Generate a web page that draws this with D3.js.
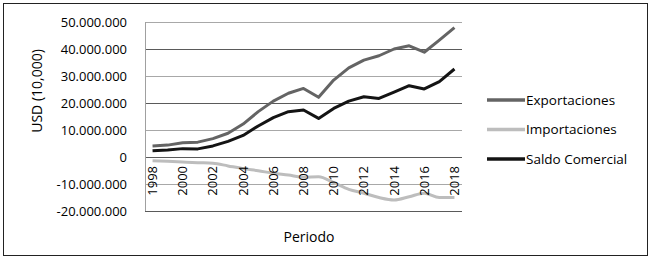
<!DOCTYPE html>
<html>
    <head>
        <meta charset="utf-8">
        <script src="https://d3js.org/d3.v7.min.js"></script>
    </head>
    <body>
        <svg id="chart" width="650" height="260"></svg>
        <script>
            const years = d3.range(1998, 2019);
            const exportaciones = [4.1, 4.4, 5.3, 5.5, 6.8, 8.8, 12.2, 16.8, 20.7, 23.6, 25.4, 22.1, 28.5, 33.0,
                                   35.9, 37.5, 40.0, 41.2, 38.8, 43.3, 47.9].map(v => v * 1e6);
            const importaciones = [-1.4, -1.6, -1.85, -2.1, -2.3, -3.3, -4.3, -5.1, -6.0, -6.7, -7.5, -7.3, -9.5, -12.0,
                                   -13.4, -15.0, -15.9, -14.7, -13.4, -15.0, -15.0].map(v => v * 1e6);
            const saldo = [2.3, 2.6, 3.1, 3.0, 4.1, 5.8, 8.0, 11.5, 14.6, 16.8, 17.4, 14.3, 18.0, 20.7,
                           22.3, 21.7, 24.0, 26.4, 25.2, 27.9, 32.6].map(v => v * 1e6);
            const yTicks = [50e6, 40e6, 30e6, 20e6, 10e6, 0, -10e6, -20e6];
            const seriesNames = ["Exportaciones", "Importaciones", "Saldo Comercial"];
            const seriesColors = ["#646464", "#bdbdbd", "#141414"];

            const svg = d3.select("svg#chart");
            const font = "'Open Sans', sans-serif";

            // outer frame
            svg.append("rect")
               .attr("x", 3.5).attr("y", 3.5)
               .attr("width", 644).attr("height", 252)
               .attr("fill", "white").attr("stroke", "#222").attr("stroke-width", 1);

            const plot = {left: 145, right: 462, top: 22, bottom: 211};

            const xScale = d3.scaleBand().domain(years).range([plot.left, plot.right]);
            const yScale = d3.scaleLinear().domain([-20e6, 50e6]).range([plot.bottom, plot.top]);
            const xPos = d => xScale(d) + xScale.bandwidth() / 2;
            // thousands with dots, plain hyphen for negatives
            const fmt = v => v === 0 ? "0" : d3.format(",")(v).replace(/,/g, ".").replace("\u2212", "-");

            // grid lines, alternating light / dark
            svg.selectAll("line.grid").data(yTicks)
               .join("line")
               .attr("class", "grid")
               .attr("x1", plot.left).attr("x2", plot.right)
               .attr("y1", d => Math.round(yScale(d)) + 0.5)
               .attr("y2", d => Math.round(yScale(d)) + 0.5)
               .attr("stroke", d => (Math.abs(d / 10e6) % 2 === 1) ? "#a8a8a8" : "#5a5a5a")
               .attr("stroke-width", 1);

            svg.append("line")
               .attr("x1", plot.left + 0.5).attr("x2", plot.left + 0.5)
               .attr("y1", plot.top).attr("y2", plot.bottom)
               .attr("stroke", "#a0a0a0");

            // y tick labels
            svg.selectAll("text.ytick").data(yTicks)
               .join("text")
               .attr("class", "ytick")
               .attr("x", 127)
               .attr("y", d => yScale(d))
               .attr("dy", "0.35em")
               .attr("text-anchor", "end")
               .style("font-family", font).style("font-size", "13px")
               .text(fmt);

            // lines
            const allSeries = [exportaciones, importaciones, saldo];
            const curves = [d3.curveLinear, d3.curveMonotoneX, d3.curveLinear];
            allSeries.forEach((vals, i) => {
                const line = d3.line()
                    .x((d, j) => xPos(years[j]))
                    .y(d => yScale(d))
                    .curve(curves[i]);
                svg.append("path")
                   .datum(vals)
                   .attr("d", line)
                   .attr("fill", "none")
                   .attr("stroke", seriesColors[i])
                   .attr("stroke-width", 3)
                   .attr("stroke-linejoin", "round");
            });

            // year labels, rotated, every other year
            svg.selectAll("text.xtick").data(years.filter(y => y % 2 === 0))
               .join("text")
               .attr("class", "xtick")
               .attr("transform", d => `translate(${xPos(d)},166) rotate(-90)`)
               .attr("dy", "0.35em")
               .attr("text-anchor", "end")
               .style("font-family", font).style("font-size", "13px")
               .text(d => d);

            // axis titles
            svg.append("text")
               .attr("transform", "translate(37,91) rotate(-90)")
               .attr("dy", "0.35em")
               .attr("text-anchor", "middle")
               .style("font-family", font).style("font-size", "14px")
               .text("USD (10,000)");

            svg.append("text")
               .attr("x", 309).attr("y", 242)
               .attr("text-anchor", "middle")
               .style("font-family", font).style("font-size", "14px")
               .text("Periodo");

            // legend
            const legendY = [100, 129.5, 159];
            const legend = svg.selectAll("g.legend").data(seriesNames)
               .join("g")
               .attr("class", "legend")
               .attr("transform", (d, i) => `translate(487,${legendY[i]})`);
            legend.append("line")
                  .attr("x1", 0).attr("x2", 38)
                  .attr("stroke", (d, i) => seriesColors[i])
                  .attr("stroke-width", 3.5);
            legend.append("text")
                  .attr("x", 39)
                  .attr("dy", "0.35em")
                  .style("font-family", font).style("font-size", "13.5px")
                  .text(d => d);
        </script>
    </body>
</html>
<style>
    body { margin: 0; background: white; }
    svg { display: block; }
</style>
